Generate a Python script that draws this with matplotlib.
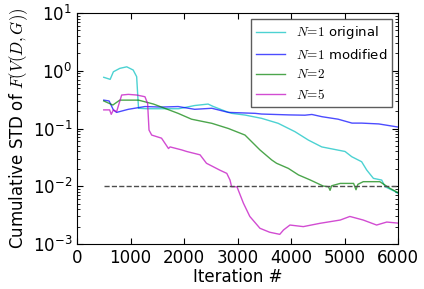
import numpy as np
import matplotlib
matplotlib.use("Agg")
import matplotlib.pyplot as plt

plt.rcParams['mathtext.fontset'] = 'cm'
plt.rcParams['font.family'] = 'DejaVu Sans'

# N=1 original
x_orig = [500, 620, 680, 800, 930, 1050, 1115, 1135, 1150, 1300, 1600, 1900, 2200, 2450, 2550,
          2770, 2890, 3140, 3450, 3760, 4075, 4325, 4575, 5010, 5135, 5320, 5415, 5540, 5695,
          5760, 5945, 6000]
y_orig = [0.77, 0.71, 0.96, 1.10, 1.17, 1.03, 0.79, 0.38, 0.224, 0.22, 0.22, 0.22, 0.25, 0.265,
          0.24, 0.20, 0.183, 0.171, 0.15, 0.123, 0.088, 0.063, 0.048, 0.040, 0.0325, 0.0266,
          0.0191, 0.0137, 0.0128, 0.0098, 0.0081, 0.0075]

# N=1 modified
x_mod = [500, 600, 680, 740, 960, 1270, 1580, 1890, 2200, 2520, 2830, 3330, 3450, 3960, 4260,
         4390, 4580, 4880, 5140, 5320, 5640, 6000]
y_mod = [0.31, 0.30, 0.21, 0.19, 0.215, 0.24, 0.235, 0.24, 0.215, 0.224, 0.19, 0.183, 0.178,
         0.172, 0.17, 0.175, 0.16, 0.145, 0.124, 0.124, 0.12, 0.106]

# N=2
x_n2 = [500, 670, 800, 1150, 1270, 1430, 1580, 1890, 2140, 2390, 2520, 2830, 3140, 3420, 3640,
        3730, 3950, 4140, 4355, 4600, 4700, 4730, 4760, 4920, 5170, 5215, 5250, 5350, 5660,
        5850, 5975, 6000]
y_n2 = [0.30, 0.255, 0.31, 0.31, 0.29, 0.265, 0.235, 0.183, 0.145, 0.13, 0.123, 0.10, 0.077,
        0.0425, 0.0285, 0.025, 0.0204, 0.0157, 0.0129, 0.0101, 0.0098, 0.0085, 0.0102, 0.0112,
        0.0112, 0.0087, 0.0108, 0.012, 0.012, 0.0092, 0.008, 0.0078]

# N=5
x_n5 = [500, 610, 640, 680, 740, 835, 960, 1115, 1270, 1320, 1346, 1396, 1580, 1710, 1740,
        1960, 2050, 2300, 2420, 2670, 2800, 2860, 2890, 2990, 3110, 3230, 3420, 3600, 3790,
        3860, 3980, 4230, 4540, 4920, 5100, 5350, 5600, 5790, 6000]
y_n5 = [0.21, 0.21, 0.176, 0.21, 0.195, 0.38, 0.39, 0.38, 0.355, 0.27, 0.094, 0.077, 0.068,
        0.045, 0.048, 0.0425, 0.040, 0.035, 0.025, 0.019, 0.0167, 0.0128, 0.0098, 0.0098,
        0.0051, 0.003, 0.00187, 0.0016, 0.00147, 0.00175, 0.00213, 0.002, 0.00228, 0.0026,
        0.003, 0.0026, 0.00213, 0.0024, 0.0023]

threshold = 0.01

fig = plt.figure(figsize=(4.24, 2.89), dpi=100)
ax = fig.add_axes([0.1816, 0.1557, 0.7571, 0.7993])

ax.plot(x_orig, y_orig, color='c', alpha=0.7, lw=1.0, label=r'$N\!=\!1$ original')
ax.plot(x_mod, y_mod, color='b', alpha=0.7, lw=1.0, label=r'$N\!=\!1$ modified')
ax.plot(x_n2, y_n2, color='g', alpha=0.7, lw=1.0, label=r'$N\!=\!2$')
ax.plot(x_n5, y_n5, color='m', alpha=0.7, lw=1.0, label=r'$N\!=\!5$')
ax.plot([500, 6000], [threshold, threshold], '--', color='0.3', lw=1.0)

ax.set_yscale('log')
ax.set_xlim(0, 6000)
ax.set_ylim(1e-3, 1e1)
ax.set_xticks([0, 1000, 2000, 3000, 4000, 5000, 6000])
ax.tick_params(which='both', direction='in', top=True, right=True, labelsize=12)
ax.tick_params(which='major', length=4)
ax.tick_params(which='minor', length=2)
ax.set_xlabel('Iteration #', fontsize=12, labelpad=1)
ax.set_ylabel(r'Cumulative STD of $F(V(D,G))$', fontsize=12, labelpad=2)

leg = ax.legend(loc='upper right', fontsize=9.5, fancybox=False, handlelength=2.2,
                borderaxespad=0.45)
leg.get_frame().set_edgecolor('0.2')

fig.savefig('out.png', dpi=100)
